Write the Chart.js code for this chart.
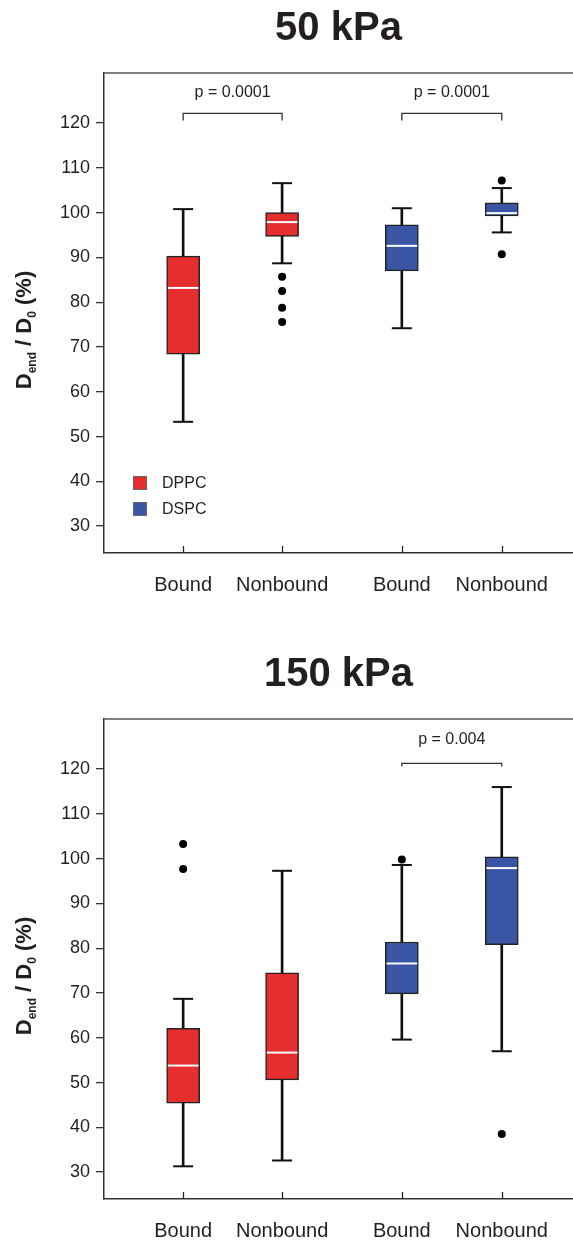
<!DOCTYPE html>
<html>
<head>
<meta charset="utf-8">
<script src="https://cdn.jsdelivr.net/npm/chart.js@4.4.1/dist/chart.umd.min.js"></script>
<style>
  body { margin: 0; background: #fff; }
  #wrap { position: relative; width: 573px; height: 1241px; }
  canvas { position: absolute; left: 0; }
</style>
</head>
<body>
<div id="wrap">
  <canvas id="c50" width="573" height="646" style="top:0"></canvas>
  <canvas id="c150" width="573" height="595" style="top:646px"></canvas>
</div>
<script>
// categories and where they sit on the x axis (two groups)
const categories = ['Bound', 'Nonbound', 'Bound', 'Nonbound'];
const xPositions = [1, 2, 3.21, 4.22];
const lipidOf = [0, 0, 1, 1];
const lipids = ['DPPC', 'DSPC'];
const yTicks = [30, 40, 50, 60, 70, 80, 90, 100, 110, 120];

// 50 kPa
const low50  = [53.3, 88.7, 74.2, 95.6];
const q1_50  = [68.4, 94.7, 87.0, 99.3];
const med50  = [83.2, 97.9, 92.6, 99.9];
const q3_50  = [90.3, 100.0, 97.3, 102.2];
const high50 = [100.8, 106.6, 101.0, 105.5];
const out50  = [[], [85.7, 82.5, 78.8, 75.6], [], [107.2, 90.7]];
const pairs50 = [[0, 1, 'p = 0.0001'], [2, 3, 'p = 0.0001']];

// 150 kPa
const low150  = [31.3, 32.6, 59.6, 57.0];
const q1_150  = [45.4, 50.6, 69.8, 80.8];
const med150  = [53.8, 56.7, 76.6, 97.9];
const q3_150  = [62.1, 74.5, 81.4, 100.4];
const high150 = [68.7, 97.3, 98.6, 116.0];
const out150  = [[103.3, 97.7], [], [99.8], [38.5]];
const pairs150 = [[2, 3, 'p = 0.004']];

const colors = ['#e62e2f', '#3a55a4'];
const FONT = "'Liberation Sans', Arial, sans-serif";

function drawYLabel(ctx, x, y) {
    const parts = [
        ['D', 22, 0], ['end', 12, 5], [' / D', 22, 0], ['0', 12, 5], [' (%)', 22, 0]
    ];
    let total = 0;
    parts.forEach(p => { ctx.font = 'bold ' + p[1] + 'px ' + FONT; total += ctx.measureText(p[0]).width; });
    ctx.save();
    ctx.translate(x, y);
    ctx.rotate(-Math.PI / 2);
    ctx.fillStyle = '#231f20';
    ctx.textBaseline = 'alphabetic';
    ctx.textAlign = 'left';
    let cx = -total / 2;
    parts.forEach(p => {
        ctx.font = 'bold ' + p[1] + 'px ' + FONT;
        ctx.fillText(p[0], cx, p[2]);
        cx += ctx.measureText(p[0]).width;
    });
    ctx.restore();
}

function makeChart(id, title, low, q1, med, q3, high, outs, pairs, barLevel, legLevel, textLevel, xAxisHeight, showLegend) {
    const datasets = [];

    // whisker stems
    datasets.push({
        type: 'bar', order: 6, grouped: false, barThickness: 2,
        backgroundColor: '#111', borderWidth: 0,
        data: xPositions.map((x, i) => ({ x: x, y: [low[i], high[i]] }))
    });
    // boxes, one dataset per lipid
    lipids.forEach((name, l) => {
        datasets.push({
            type: 'bar', label: name, order: 5, grouped: false, barThickness: 33,
            backgroundColor: colors[l], borderColor: '#222', borderWidth: 1.5, borderSkipped: false,
            data: xPositions.map((x, i) => ({ x: x, y: [q1[i], q3[i]] })).filter((d, i) => lipidOf[i] === l)
        });
    });
    // whisker caps
    const caps = [];
    xPositions.forEach((x, i) => { caps.push({ x: x, y: low[i] }); caps.push({ x: x, y: high[i] }); });
    datasets.push({
        type: 'scatter', order: 4, data: caps,
        pointStyle: 'line', pointRadius: 10, pointBorderWidth: 2,
        pointBorderColor: '#111', borderColor: '#111'
    });
    // medians
    datasets.push({
        type: 'scatter', order: 3,
        data: xPositions.map((x, i) => ({ x: x, y: med[i] })),
        pointStyle: 'line', pointRadius: 15.3, pointBorderWidth: 2,
        pointBorderColor: '#fff', borderColor: '#fff'
    });
    // outliers
    const outPts = [];
    outs.forEach((arr, i) => arr.forEach(v => outPts.push({ x: xPositions[i], y: v })));
    datasets.push({
        type: 'scatter', order: 2, data: outPts,
        pointStyle: 'circle', pointRadius: 4, pointBorderWidth: 0,
        pointBackgroundColor: '#000', backgroundColor: '#000'
    });
    // significance brackets
    pairs.forEach(p => {
        const a = xPositions[p[0]], b = xPositions[p[1]];
        datasets.push({
            type: 'line', order: 1,
            data: [{ x: a, y: legLevel }, { x: a, y: barLevel }, { x: b, y: barLevel }, { x: b, y: legLevel }],
            borderColor: '#333', borderWidth: 1.3, pointRadius: 0, fill: false, tension: 0
        });
    });

    const extras = {
        id: 'extras',
        afterDraw(chart) {
            const ctx = chart.ctx, area = chart.chartArea;
            const xs = chart.scales.x, ys = chart.scales.y;
            ctx.save();
            // top frame line
            ctx.strokeStyle = '#555';
            ctx.lineWidth = 1.5;
            ctx.beginPath();
            ctx.moveTo(area.left, area.top);
            ctx.lineTo(area.right, area.top);
            ctx.stroke();
            // inward x ticks
            ctx.strokeStyle = '#222';
            ctx.lineWidth = 1.3;
            xPositions.forEach(v => {
                const px = Math.round(xs.getPixelForValue(v)) + 0.5;
                ctx.beginPath();
                ctx.moveTo(px, area.bottom);
                ctx.lineTo(px, area.bottom - 7);
                ctx.stroke();
            });
            // title
            ctx.fillStyle = '#231f20';
            ctx.font = 'bold 40px ' + FONT;
            ctx.textAlign = 'center';
            ctx.textBaseline = 'middle';
            ctx.fillText(title, (area.left + area.right) / 2, 29);
            // p values
            ctx.font = '16px ' + FONT;
            pairs.forEach(p => {
                const mx = (xs.getPixelForValue(xPositions[p[0]]) + xs.getPixelForValue(xPositions[p[1]])) / 2;
                ctx.fillText(p[2], mx, ys.getPixelForValue(textLevel));
            });
            // legend
            if (showLegend) {
                lipids.forEach((name, l) => {
                    const cy = area.bottom - 70 + l * 26;
                    ctx.fillStyle = colors[l];
                    ctx.fillRect(area.left + 29, cy - 7, 14, 14);
                    ctx.strokeStyle = '#666';
                    ctx.lineWidth = 1;
                    ctx.strokeRect(area.left + 29.5, cy - 6.5, 13, 13);
                    ctx.fillStyle = '#231f20';
                    ctx.font = '16px ' + FONT;
                    ctx.textAlign = 'left';
                    ctx.fillText(name, area.left + 58, cy + 1);
                });
            }
            ctx.restore();
            drawYLabel(ctx, 31, (area.top + area.bottom) / 2 + 17);
        }
    };

    return new Chart(document.getElementById(id), {
        type: 'bar',
        data: { datasets: datasets },
        plugins: [extras],
        options: {
            responsive: false,
            devicePixelRatio: 1,
            animation: false,
            layout: { autoPadding: false, padding: { top: 73, left: 0, right: 0, bottom: 0 } },
            plugins: { legend: { display: false }, tooltip: { enabled: false }, title: { display: false } },
            scales: {
                x: {
                    type: 'linear', offset: false, min: 0.2, max: 4.94,
                    afterBuildTicks: s => { s.ticks = xPositions.map(v => ({ value: v })); },
                    afterFit: s => { s.height = xAxisHeight; s.paddingLeft = 0; s.paddingRight = 0; },
                    grid: { display: true, drawOnChartArea: false, drawTicks: false },
                    border: { display: true, color: '#333', width: 1.5 },
                    ticks: {
                        autoSkip: false, maxRotation: 0, padding: 20,
                        color: '#231f20', font: { family: FONT, size: 20 },
                        callback: (v, i) => categories[i]
                    }
                },
                y: {
                    type: 'linear', min: 24, max: 131.2, beginAtZero: false,
                    afterBuildTicks: s => { s.ticks = yTicks.map(v => ({ value: v })); },
                    afterFit: s => { s.width = 104; s.paddingTop = 0; s.paddingBottom = 0; },
                    grid: { display: true, drawOnChartArea: false, drawTicks: true, tickLength: 8, color: '#333', lineWidth: 1.3 },
                    border: { display: true, color: '#333', width: 1.5 },
                    ticks: { padding: 6, color: '#231f20', font: { family: FONT, size: 18 } }
                }
            }
        }
    });
}

makeChart('c50', '50 kPa', low50, q1_50, med50, q3_50, high50, out50, pairs50, 122.2, 120.6, 126.8, 93, true);
makeChart('c150', '150 kPa', low150, q1_150, med150, q3_150, high150, out150, pairs150, 121.3, 120.6, 126.5, 42, false);
</script>
</body>
</html>
